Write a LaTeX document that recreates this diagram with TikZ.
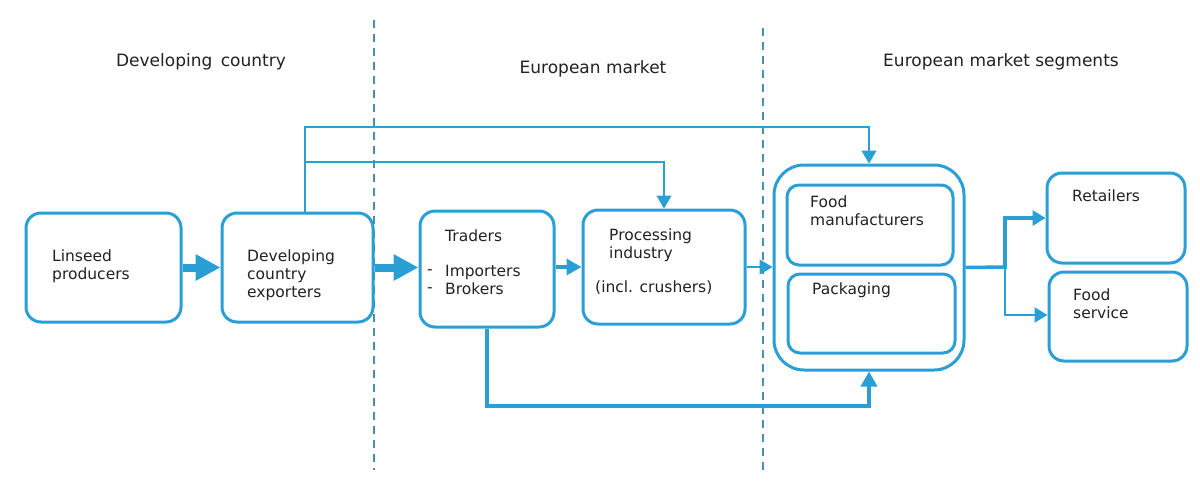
\documentclass[tikz,border=0pt]{standalone}
\usepackage{fontspec}
\setmainfont{DejaVu Sans}
\usetikzlibrary{arrows.meta}
\definecolor{bl}{HTML}{2A9FD6}
\definecolor{dl}{HTML}{4A8DB5}
\definecolor{tx}{HTML}{222222}
\begin{document}
\begin{tikzpicture}[x=1pt,y=-1pt,
  box/.style={draw=bl, line width=3pt, rounded corners=15pt, inner sep=0pt},
  lbl/.style={text=tx, font=\fontsize{15.5}{18}\selectfont, inner sep=0pt, anchor=west, align=left},
  head/.style={text=tx, font=\fontsize{17}{20}\selectfont, inner sep=0pt},
  divider/.style={draw=dl, line width=1.5pt, dash pattern=on 8pt off 6pt},
  fatarr/.style={draw=bl, line width=8pt, -{Triangle[length=25pt,width=25pt]}},
  medarr/.style={draw=bl, line width=3.5pt, -{Triangle[length=15pt,width=16pt]}},
  thinarr/.style={draw=bl, line width=1.3pt, -{Triangle[length=13pt,width=15pt]}},
  line2/.style={draw=bl, line width=2pt, -{Triangle[length=13pt,width=15pt]}}
]
\useasboundingbox (0,0) rectangle (1200,480);
\fill[white] (0,0) rectangle (1200,480);

% dividers
\coordinate (d1t) at (374,20); \coordinate (d1b) at (374,470);
\coordinate (d2t) at (763,28); \coordinate (d2b) at (763,470);
\draw[divider] (d1t) -- (d1b);
\draw[divider] (d2t) -- (d2b);

% headings
\node[head] (h1) at (201,62) {Developing\hspace{0.5em}country};
\node[head] (h2) at (593,69) {European market};
\node[head] (h3) at (1001,62) {European market segments};

% boxes
\node[box, minimum width=155pt, minimum height=109pt] (lin) at (103.5,267.5) {};
\node[box, minimum width=151pt, minimum height=109pt] (exp) at (297.5,267.5) {};
\node[box, minimum width=134pt, minimum height=116pt] (tra) at (487,269) {};
\node[box, minimum width=162pt, minimum height=114pt] (pro) at (664,267) {};
\node[box, rounded corners=30pt, minimum width=190pt, minimum height=205pt] (out) at (869,267.5) {};
\node[box, rounded corners=12pt, minimum width=166pt, minimum height=80pt] (fm) at (870,225) {};
\node[box, rounded corners=12pt, minimum width=167pt, minimum height=79pt] (pk) at (871.5,313.5) {};
\node[box, minimum width=138pt, minimum height=90pt] (ret) at (1116,218) {};
\node[box, minimum width=138pt, minimum height=89pt] (fs) at (1118,316.5) {};

% texts
\node[lbl] (tlin) at (52,266) {Linseed\\producers};
\node[lbl] (texp) at (247,275) {Developing\\country\\exporters};
\node[lbl] (ttra) at (445,236) {Traders};
\node[lbl] (tdash) at (427,281) {-\\-};
\node[lbl] (tlist) at (445,280) {Importers\\Brokers};
\node[lbl] (tpro) at (609,245) {Processing\\industry};
\node[lbl] (tinc) at (595,288) {(incl. crushers)};
\node[lbl] (tfm) at (810,211) {Food\\manufacturers};
\node[lbl] (tpk) at (812,290) {Packaging};
\node[lbl] (tret) at (1072,196) {Retailers};
\node[lbl] (tfs) at (1073,304) {Food\\service};

% connectors
\draw[fatarr] (lin.east) -- (exp.west);
\draw[fatarr] (exp.east) -- (exp.east -| tra.west);
\draw[medarr] (pro.west -| tra.east) -- (pro.west);
\draw[thinarr] (pro.east) -- (pro.east -| out.west);

\coordinate (e1) at ([xshift=7.5pt]exp.north);
\coordinate (ytop) at (0,127);
\coordinate (ymid) at (0,162);
\coordinate (ybot) at (0,406);
\draw[thinarr] (e1) |- (out.north |- ytop) -- (out.north);
\draw[thinarr] (e1 |- ymid) -| (pro.north);
\draw[medarr] (tra.south) |- (out.south |- ybot) -- (out.south);

\coordinate (j) at (1005,267);
\coordinate (yfs) at (0,315);
\draw[draw=bl, line width=3.5pt] (out.east) -- (j);
\draw[medarr, -{Triangle[length=13pt,width=15pt]}] ([yshift=-1.75pt]j) |- (ret.west);
\draw[line2] (j) |- (fs.west |- yfs);
\end{tikzpicture}
\end{document}
